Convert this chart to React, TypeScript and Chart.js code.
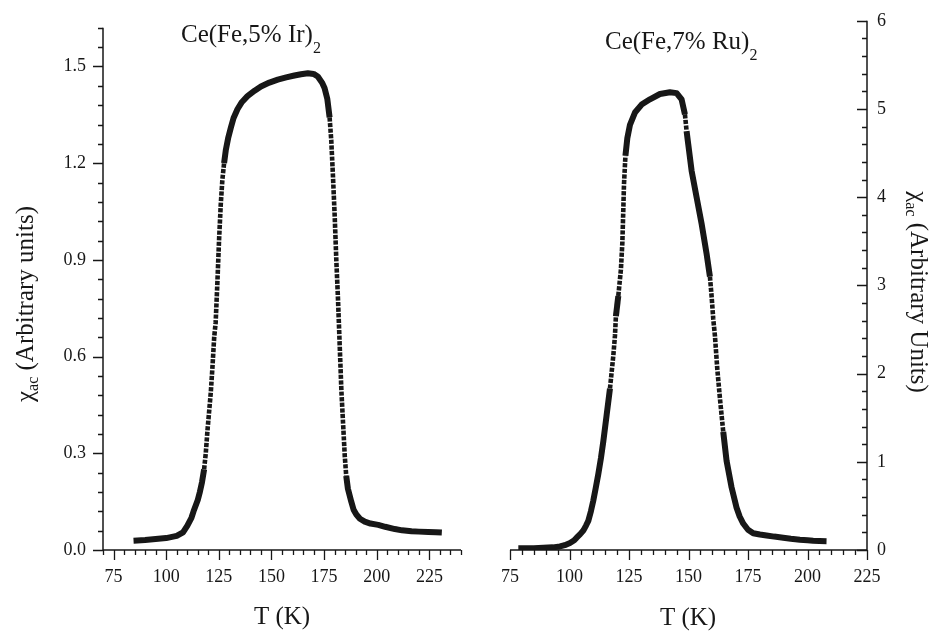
import React, { useEffect, useRef } from "react";
import { Chart, registerables } from "chart.js";
Chart.register(...registerables);

const FONT = '"Liberation Serif", "Times New Roman", serif';
const INK = "#171717";

// Ce(Fe,5% Ir)2 — temperature (K) and chi_ac (arb. units)
const irT = [
  84.5, 90, 95, 100, 105, 108, 110, 112, 113, 115, 116, 117, 118, 118.8, 119.6, 120.4, 121.2, 122, 122.8,
  123.5, 124.3, 125.1, 125.9, 126.7, 127.5, 128.3, 129.5, 130.7, 132, 133.9, 136, 138.6, 142, 145, 149,
  153, 157, 160.9, 164, 167.3, 170, 172, 174, 175.2, 176.5, 177.6, 178.4, 179.2, 180, 180.8, 181.6, 182.4,
  183.2, 184, 184.8, 185.5, 186.3, 187.9, 189, 190.3, 192, 194.3, 197, 200.7, 204, 208.6, 212, 216.5, 220,
  224.5, 228, 230.9,
];
const irChi = [
  0.029, 0.031, 0.034, 0.037, 0.044, 0.055, 0.075, 0.1, 0.12, 0.155, 0.18, 0.21, 0.25, 0.3, 0.37, 0.43, 0.49,
  0.57, 0.66, 0.706, 0.827, 0.96, 1.07, 1.15, 1.2, 1.24, 1.28, 1.31, 1.34, 1.368, 1.39, 1.408, 1.425, 1.438,
  1.45, 1.459, 1.466, 1.472, 1.476, 1.479, 1.477, 1.469, 1.45, 1.433, 1.4, 1.342, 1.27, 1.16, 1.04, 0.898,
  0.777, 0.635, 0.494, 0.393, 0.292, 0.23, 0.19, 0.15, 0.125, 0.11, 0.097, 0.088, 0.082, 0.078, 0.072, 0.065,
  0.061, 0.058, 0.057, 0.056, 0.055, 0.054,
];

// Ce(Fe,7% Ru)2 — temperature (K) and chi_ac (arb. units)
const ruT = [
  78.5, 85, 89, 93, 96, 98, 100.2, 102, 103, 104.5, 105.8, 107, 107.9, 109, 110, 111, 112.1, 113.2, 114.2,
  115.6, 117, 118.4, 119.1, 119.5, 120.5, 121.6, 122.2, 122.6, 122.9, 123.5, 124.3, 125.4, 127.5, 130.3,
  133.8, 138, 142.2, 145, 147.1, 148.5, 149.2, 149.9, 151.3, 153.4, 155.5, 157.6, 159, 159.7, 160.4, 161.1,
  162.1, 163.2, 164.6, 166, 168.1, 170.2, 171.5, 173, 175, 177.2, 180, 182.8, 186, 189.8, 193, 196.8, 200,
  202.4, 205, 208,
];
const ruChi = [
  0.02, 0.02, 0.025, 0.03, 0.04, 0.055, 0.08, 0.11, 0.14, 0.18, 0.22, 0.28, 0.33, 0.44, 0.56, 0.7, 0.86, 1.04,
  1.23, 1.53, 1.83, 2.2, 2.43, 2.65, 2.88, 3.18, 3.48, 3.85, 4.15, 4.47, 4.67, 4.82, 4.96, 5.05, 5.11, 5.17,
  5.19, 5.18, 5.11, 4.94, 4.75, 4.6, 4.3, 4.0, 3.7, 3.36, 3.1, 2.88, 2.62, 2.43, 2.05, 1.72, 1.34, 1.01, 0.71,
  0.48, 0.38, 0.3, 0.23, 0.19, 0.175, 0.165, 0.152, 0.14, 0.128, 0.117, 0.11, 0.105, 0.102, 0.1,
];

const leftXTicks = [75, 100, 125, 150, 175, 200, 225];
const leftYTicks = [0, 0.3, 0.6, 0.9, 1.2, 1.5];
const rightXTicks = [75, 100, 125, 150, 175, 200, 225];
const rightYTicks = [0, 1, 2, 3, 4, 5, 6];

const leftTitle = "Ce(Fe,5% Ir)";
const rightTitle = "Ce(Fe,7% Ru)";
const titleSub = "2";
const xTitle = "T (K)";
const chi = "χ";
const chiSub = "ac";
const leftYTitle = " (Arbitrary units)";
const rightYTitle = " (Arbitrary Units)";

type Part = { t: string; size: number; dy: number };

function drawParts(ctx: CanvasRenderingContext2D, parts: Part[], x: number, y: number, align: "left" | "center") {
  ctx.textAlign = "left";
  ctx.textBaseline = "alphabetic";
  let total = 0;
  for (const p of parts) {
    ctx.font = `${p.size}px ${FONT}`;
    total += ctx.measureText(p.t).width;
  }
  let cx = align === "center" ? x - total / 2 : x;
  for (const p of parts) {
    ctx.font = `${p.size}px ${FONT}`;
    ctx.fillText(p.t, cx, y + p.dy);
    cx += ctx.measureText(p.t).width;
  }
}

type TextCfg = {
  titleParts: Part[];
  titleX: number;
  titleY: number;
  xTitleX: number;
  xTitleY: number;
  yParts: Part[];
  yX: number;
  yY: number;
  yRot: number;
};

function makeTextPlugin(c: TextCfg) {
  return {
    id: "textLayer",
    afterDraw(chart: any) {
      const ctx: CanvasRenderingContext2D = chart.ctx;
      ctx.save();
      ctx.fillStyle = INK;
      drawParts(ctx, c.titleParts, c.titleX, c.titleY, "left");
      drawParts(ctx, [{ t: xTitle, size: 25, dy: 0 }], c.xTitleX, c.xTitleY, "center");
      ctx.translate(c.yX, c.yY);
      ctx.rotate(c.yRot);
      drawParts(ctx, c.yParts, 0, 0, "center");
      ctx.restore();
    },
  };
}

type AxesCfg = { xMinor: number; xMajor: number; yMinor: number; yCount: number; ySide: "left" | "right" };

function makeAxesPlugin(o: AxesCfg) {
  return {
    id: "axesLayer",
    afterDraw(chart: any) {
      const ctx: CanvasRenderingContext2D = chart.ctx;
      const a = chart.chartArea;
      const xs = chart.scales.x;
      const ys = chart.scales.y;
      ctx.save();
      ctx.strokeStyle = INK;
      ctx.lineWidth = 1.5;
      const ax = o.ySide === "left" ? a.left : a.right;
      ctx.beginPath();
      ctx.moveTo(a.left, a.bottom);
      ctx.lineTo(a.right, a.bottom);
      ctx.moveTo(ax, a.bottom);
      ctx.lineTo(ax, a.top);
      ctx.stroke();
      ctx.lineWidth = 1.3;
      ctx.beginPath();
      const i0 = Math.ceil(xs.min / o.xMinor - 1e-9);
      const i1 = Math.floor(xs.max / o.xMinor + 1e-9);
      for (let i = i0; i <= i1; i++) {
        const v = i * o.xMinor;
        const px = Math.round(xs.getPixelForValue(v)) + 0.5;
        const r = v / o.xMajor;
        const major = Math.abs(r - Math.round(r)) < 1e-6;
        ctx.moveTo(px, a.bottom);
        ctx.lineTo(px, a.bottom + (major ? 10 : 5));
      }
      for (let i = 0; i <= o.yCount; i++) {
        const v = i * o.yMinor;
        const py = Math.round(ys.getPixelForValue(v)) + 0.5;
        const len = i % 5 === 0 ? 10 : 5;
        ctx.moveTo(ax, py);
        ctx.lineTo(ax - len, py);
      }
      ctx.stroke();
      ctx.restore();
    },
  };
}

function steep(c: any) {
  const dx = Math.abs(c.p1.x - c.p0.x);
  const dy = Math.abs(c.p1.y - c.p0.y);
  return dy > 10 && dy > 9.5 * dx;
}

type Cfg = {
  T: number[];
  V: number[];
  xMin: number;
  xMax: number;
  xTicks: number[];
  yMax: number;
  yTicks: number[];
  yPos: "left" | "right";
  fmt: (v: number) => string;
  yPad: number;
  yWidth: number;
  padding: { left: number; right: number; top: number; bottom: number };
  plugins: any[];
};

function makeConfig(p: Cfg): any {
  const tickFont = { family: FONT, size: 18 };
  return {
    type: "line",
    data: {
      datasets: [
        {
          data: p.T.map((t, i) => ({ x: t, y: p.V[i] })),
          borderColor: INK,
          backgroundColor: INK,
          borderWidth: 6,
          pointRadius: 0,
          borderJoinStyle: "round",
          borderCapStyle: "butt",
          tension: 0,
          segment: {
            borderWidth: (c: any) => (steep(c) ? 4.6 : undefined),
            borderDash: (c: any) => (steep(c) ? [4.2, 1.4] : undefined),
          },
        },
      ],
    },
    options: {
      responsive: false,
      animation: false,
      devicePixelRatio: 1,
      layout: { padding: p.padding },
      plugins: { legend: { display: false }, tooltip: { enabled: false }, title: { display: false } },
      scales: {
        x: {
          type: "linear",
          min: p.xMin,
          max: p.xMax,
          grid: { display: false, drawTicks: false, tickLength: 0 },
          border: { display: false },
          ticks: {
            font: tickFont,
            color: INK,
            padding: 16,
            maxRotation: 0,
            autoSkip: false,
            callback: (v: number) => String(v),
          },
          afterBuildTicks: (s: any) => {
            s.ticks = p.xTicks.map((v) => ({ value: v }));
          },
          afterFit: (s: any) => {
            s.height = 82;
          },
        },
        y: {
          type: "linear",
          position: p.yPos,
          min: 0,
          max: p.yMax,
          grid: { display: false, drawTicks: false, tickLength: 0 },
          border: { display: false },
          ticks: {
            font: tickFont,
            color: INK,
            padding: p.yPad,
            autoSkip: false,
            callback: (v: number) => p.fmt(v),
          },
          afterBuildTicks: (s: any) => {
            s.ticks = p.yTicks.map((v) => ({ value: v }));
          },
          afterFit: (s: any) => {
            s.width = p.yWidth;
          },
        },
      },
    },
    plugins: p.plugins,
  };
}

export default function App() {
  const refA = useRef<HTMLCanvasElement>(null);
  const refB = useRef<HTMLCanvasElement>(null);

  useEffect(() => {
    const left = new Chart(
      refA.current as HTMLCanvasElement,
      makeConfig({
        T: irT,
        V: irChi,
        xMin: 70,
        xMax: 240,
        xTicks: leftXTicks,
        yMax: 1.62,
        yTicks: leftYTicks,
        yPos: "left",
        fmt: (v) => v.toFixed(1),
        yPad: 17,
        yWidth: 103,
        padding: { left: 0, right: 9, top: 15, bottom: 0 },
        plugins: [
          makeAxesPlugin({ xMinor: 5, xMajor: 25, yMinor: 0.06, yCount: 27, ySide: "left" }),
          makeTextPlugin({
            titleParts: [
              { t: leftTitle, size: 25, dy: 0 },
              { t: titleSub, size: 16, dy: 11 },
            ],
            titleX: 181,
            titleY: 42,
            xTitleX: 282,
            xTitleY: 624,
            yParts: [
              { t: chi, size: 25, dy: 0 },
              { t: chiSub, size: 16, dy: 5 },
              { t: leftYTitle, size: 25, dy: 0 },
            ],
            yX: 32.5,
            yY: 304,
            yRot: -Math.PI / 2,
          }),
        ],
      })
    );
    const right = new Chart(
      refB.current as HTMLCanvasElement,
      makeConfig({
        T: ruT,
        V: ruChi,
        xMin: 75,
        xMax: 225,
        xTicks: rightXTicks,
        yMax: 6,
        yTicks: rightYTicks,
        yPos: "right",
        fmt: (v) => String(v),
        yPad: 10,
        yWidth: 70,
        padding: { left: 50, right: 0, top: 15, bottom: 0 },
        plugins: [
          makeAxesPlugin({ xMinor: 5, xMajor: 25, yMinor: 0.2, yCount: 30, ySide: "right" }),
          makeTextPlugin({
            titleParts: [
              { t: rightTitle, size: 25, dy: 0 },
              { t: titleSub, size: 16, dy: 11 },
            ],
            titleX: 145,
            titleY: 48.5,
            xTitleX: 228,
            xTitleY: 625,
            yParts: [
              { t: chi, size: 25, dy: 0 },
              { t: chiSub, size: 16, dy: 5 },
              { t: rightYTitle, size: 25, dy: 0 },
            ],
            yX: 451,
            yY: 292,
            yRot: Math.PI / 2,
          }),
        ],
      })
    );
    return () => {
      left.destroy();
      right.destroy();
    };
  }, []);

  return (
    <div style={{ position: "absolute", left: 0, top: 0, width: 937, height: 632, background: "#ffffff" }}>
      <canvas ref={refA} width={470} height={632} style={{ position: "absolute", left: 0, top: 0 }} />
      <canvas ref={refB} width={477} height={632} style={{ position: "absolute", left: 460, top: 0 }} />
    </div>
  );
}
